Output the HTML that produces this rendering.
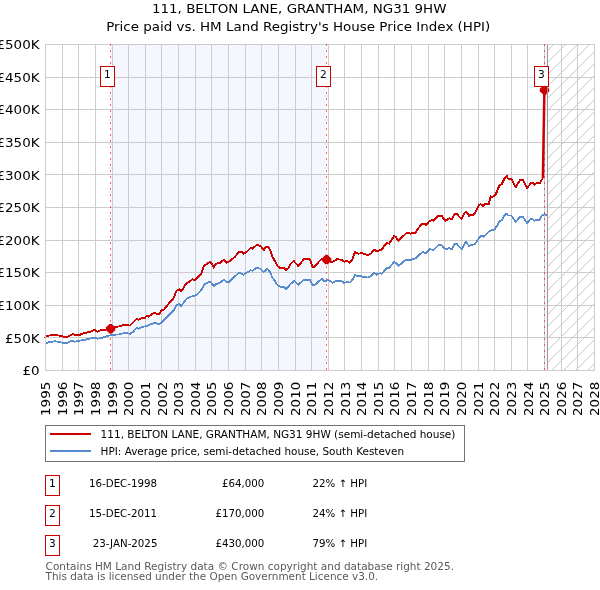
<!DOCTYPE html>
<html lang="en"><head><meta charset="utf-8"><title>111, BELTON LANE, GRANTHAM, NG31 9HW</title>
<style>
html,body{margin:0;padding:0;background:#fff;}
body{width:600px;height:590px;overflow:hidden;position:relative;}
svg{position:absolute;left:0;top:0;display:block;}
text{font-family:"DejaVu Sans","Liberation Sans",sans-serif;fill:#000;}
.t{font-size:13.5px;}
.tt{font-size:13.45px;}
.s{font-size:10.5px;}
.f{font-size:10.5px;fill:#5a5a5a;}
.r{font-size:10.25px;}
</style></head><body>
<svg width="600" height="590" viewBox="0 0 600 590">
<defs>
<pattern id="h" width="12" height="12" patternUnits="userSpaceOnUse" x="10" y="0"><path d="M-1,1 L1,-1 M-1,13 L13,-1 M11,13 L13,11" stroke="#c6c6c6" stroke-width="1" fill="none"/></pattern>
<clipPath id="c"><rect x="45.5" y="44.5" width="549" height="326"/></clipPath>
</defs>
<rect width="600" height="590" fill="#fff"/>
<rect x="110.6" y="44.5" width="215.4" height="326" fill="#f4f7fe"/>
<rect x="544.4" y="44.5" width="3.1" height="326" fill="#f4f7fe"/>
<rect x="547.5" y="44.5" width="47" height="326" fill="url(#h)"/>
<path d="M45,44h1v327h-1zM62,44h1v327h-1zM78,44h1v327h-1zM95,44h1v327h-1zM112,44h1v327h-1zM128,44h1v327h-1zM145,44h1v327h-1zM161,44h1v327h-1zM178,44h1v327h-1zM195,44h1v327h-1zM211,44h1v327h-1zM228,44h1v327h-1zM245,44h1v327h-1zM261,44h1v327h-1zM278,44h1v327h-1zM295,44h1v327h-1zM311,44h1v327h-1zM328,44h1v327h-1zM344,44h1v327h-1zM361,44h1v327h-1zM378,44h1v327h-1zM394,44h1v327h-1zM411,44h1v327h-1zM428,44h1v327h-1zM444,44h1v327h-1zM461,44h1v327h-1zM478,44h1v327h-1zM494,44h1v327h-1zM511,44h1v327h-1zM527,44h1v327h-1zM544,44h1v327h-1zM561,44h1v327h-1zM577,44h1v327h-1zM594,44h1v327h-1zM45,370h550v1h-550zM45,337h550v1h-550zM45,305h550v1h-550zM45,272h550v1h-550zM45,240h550v1h-550zM45,207h550v1h-550zM45,174h550v1h-550zM45,142h550v1h-550zM45,109h550v1h-550zM45,77h550v1h-550zM45,44h550v1h-550z" fill="#cccccc" shape-rendering="crispEdges"/>
<g clip-path="url(#c)" fill="none" stroke-linejoin="round" shape-rendering="crispEdges">
<polyline points="45.8,343.0 50.0,342.0 55.0,341.3 60.0,342.0 63.3,343.0 67.5,342.7 71.7,340.8 74.2,341.7 80.0,340.5 85.0,339.8 90.0,338.5 95.0,337.8 97.5,338.7 103.3,337.5 110.0,335.3 115.0,334.7 120.0,334.3 125.0,332.7 130.0,333.9 133.3,331.7 136.7,327.5 138.3,328.7 143.3,326.7 146.7,326.2 150.8,324.2 155.0,322.8 158.3,324.2 160.8,323.3 162.5,321.3 167.5,316.7 173.3,310.8 176.7,305.3 179.2,303.7 180.8,306.2 183.3,303.3 186.7,298.7 190.8,296.7 194.2,295.8 197.5,294.3 201.7,289.4 204.2,284.6 207.5,282.9 210.0,281.7 211.7,283.3 213.8,286.6 215.8,284.3 220.0,282.7 223.7,280.0 226.7,281.7 229.2,281.7 233.3,277.8 239.2,272.5 243.3,274.8 246.7,272.5 250.8,270.3 252.5,270.8 257.0,267.5 260.0,268.7 263.7,272.0 267.5,268.7 270.0,272.0 272.5,277.8 275.0,281.2 277.5,285.3 280.8,286.7 284.2,287.0 286.2,289.0 288.7,286.2 290.8,283.8 294.2,281.0 298.3,284.7 304.2,279.7 310.0,280.0 312.8,285.5 315.0,284.7 321.7,278.8 325.0,281.7 328.3,280.0 332.5,282.7 336.7,280.5 341.7,281.3 344.2,283.0 347.5,281.7 350.0,282.7 352.5,279.7 355.0,275.0 357.5,276.3 360.0,275.8 364.2,277.2 368.3,277.5 370.8,276.0 374.2,273.0 376.7,274.7 380.0,273.3 381.7,273.8 384.2,271.0 386.7,268.0 389.2,267.7 394.2,261.7 395.8,263.0 398.7,265.8 401.7,263.3 405.8,259.7 411.7,259.7 415.8,258.3 418.3,255.8 422.5,252.0 425.8,253.3 430.0,249.2 433.3,250.0 438.3,245.0 441.7,245.0 443.3,247.5 445.8,249.2 449.2,248.0 451.7,249.2 454.7,244.2 457.0,244.2 459.2,246.7 461.7,249.2 464.2,244.2 466.3,241.7 468.8,245.8 471.7,245.0 475.0,244.2 477.5,240.3 480.8,235.8 483.3,236.7 485.0,235.3 490.0,230.8 495.0,229.2 499.2,221.7 501.7,220.3 505.0,214.7 506.7,213.7 508.0,215.5 511.3,215.5 514.2,219.7 515.8,221.7 520.0,217.0 523.0,217.0 525.0,220.0 527.2,223.0 530.8,218.7 532.5,218.7 534.2,220.8 537.5,219.7 539.7,219.7 541.7,215.8 544.2,214.2 546.7,215.5" stroke="#588bce" stroke-width="1.8"/>
<polyline points="45.8,335.8 52.5,335.3 55.0,334.5 56.7,335.3 60.8,335.7 63.3,336.8 67.5,336.8 72.5,334.2 75.0,334.8 80.0,334.7 85.0,332.8 90.0,332.0 94.2,329.7 97.5,331.7 100.8,330.0 105.8,329.7 110.4,328.3 115.0,327.0 120.0,326.3 125.0,324.7 130.0,325.6 136.7,318.7 138.3,319.7 142.5,317.8 145.0,317.8 146.7,315.8 148.3,316.7 151.7,314.2 155.0,312.8 157.5,314.2 160.0,313.7 161.3,310.0 163.3,310.5 167.5,305.0 173.3,298.3 176.7,290.8 179.2,289.2 180.8,291.2 183.3,288.3 185.8,284.2 189.2,281.7 192.5,279.2 195.0,280.0 198.3,276.7 201.7,273.0 204.2,265.3 206.7,264.2 210.0,261.7 211.7,263.7 213.8,267.8 215.8,263.7 220.0,262.8 223.7,260.0 226.7,262.8 230.8,260.3 235.0,256.7 239.2,251.7 241.7,252.0 243.3,253.7 246.7,251.7 250.8,247.8 252.5,248.7 257.0,244.5 260.8,246.2 263.7,250.3 265.8,247.3 268.0,246.7 270.0,249.5 272.5,257.0 275.0,261.2 277.5,266.2 280.8,268.3 284.2,267.8 286.2,270.0 288.7,267.8 290.8,263.7 293.7,261.0 298.3,266.0 304.2,258.8 310.0,259.3 312.5,266.7 314.2,266.7 321.7,258.8 326.4,259.3 330.8,261.8 334.2,261.3 336.7,259.3 341.7,259.7 344.2,261.8 347.5,261.0 350.0,262.7 352.5,258.8 355.0,252.2 358.3,253.8 361.7,253.0 365.0,254.3 368.3,255.0 370.8,253.8 374.2,249.7 376.7,251.3 381.7,249.7 384.2,246.0 386.7,243.0 389.2,243.7 394.2,235.8 395.8,237.0 398.7,240.8 401.7,237.5 405.8,233.7 408.3,232.5 410.0,233.7 415.8,232.5 418.3,228.3 421.7,224.2 424.2,223.7 426.3,225.0 429.2,221.3 431.7,220.0 433.3,220.8 438.3,215.8 441.7,215.8 443.3,218.7 445.8,220.8 449.2,218.3 451.7,219.2 454.7,213.7 457.0,213.7 459.2,216.7 461.7,218.7 464.2,213.3 466.3,211.7 468.8,215.8 470.8,215.0 472.8,215.6 475.8,211.7 479.2,205.0 480.8,204.2 483.0,205.8 485.0,204.2 488.7,204.2 490.8,196.3 492.5,197.0 495.8,194.2 499.2,185.8 501.7,184.2 505.0,177.5 506.7,175.8 508.0,178.7 511.3,179.2 514.2,184.2 515.8,187.0 520.0,180.3 523.0,180.3 525.0,184.2 527.2,188.0 530.8,183.0 532.5,182.5 534.2,184.7 537.5,182.5 539.7,183.3 541.7,180.0 542.9,178.3" stroke="#cc0000" stroke-width="1.9"/>
</g>
<polyline points="542.9,178.3 543.0,172 544.4,90" stroke="#cc0000" stroke-width="2.5" fill="none" stroke-linejoin="round"/>
<rect x="44" y="337" width="1" height="1" fill="#cc0000"/>
<path d="M109.4,324.0H111.8L115.3,327.5V329.9L111.8,333.4H109.4L105.9,329.9V327.5Z" fill="#cc0000"/>
<path d="M325.4,254.9H327.8L331.3,258.4V260.8L327.8,264.3H325.4L321.9,260.8V258.4Z" fill="#cc0000"/>
<path d="M543.3,85.3H545.7L549.2,88.8V91.2L545.7,94.7H543.3L539.8,91.2V88.8Z" fill="#cc0000"/>
<path d="M110.5,370V44" stroke="#ff0000" stroke-opacity="0.6" stroke-width="1" stroke-dasharray="2 4" fill="none"/>
<path d="M326.5,370V44" stroke="#ff0000" stroke-opacity="0.6" stroke-width="1" stroke-dasharray="2 4" fill="none"/>
<path d="M544.5,370V44" stroke="#ff0000" stroke-opacity="0.6" stroke-width="1" stroke-dasharray="2 4" fill="none"/>
<rect x="547" y="45" width="1" height="325" fill="#999999"/>
<rect x="100.5" y="66.5" width="14" height="20" fill="#fff" stroke="#cc0000" stroke-width="1"/>
<text class="s" x="107.5" y="77.9" text-anchor="middle" style="font-size:10.67px">1</text>
<rect x="316.5" y="66.5" width="14" height="20" fill="#fff" stroke="#cc0000" stroke-width="1"/>
<text class="s" x="323.5" y="77.9" text-anchor="middle" style="font-size:10.67px">2</text>
<rect x="534.5" y="66.5" width="14" height="20" fill="#fff" stroke="#cc0000" stroke-width="1"/>
<text class="s" x="541.5" y="77.9" text-anchor="middle" style="font-size:10.67px">3</text>
<text class="t" transform="translate(39.6,375.1) scale(1,0.93)" text-anchor="end">£0</text>
<text class="t" transform="translate(39.6,342.5) scale(1,0.93)" text-anchor="end">£50K</text>
<text class="t" transform="translate(39.6,309.9) scale(1,0.93)" text-anchor="end">£100K</text>
<text class="t" transform="translate(39.6,277.3) scale(1,0.93)" text-anchor="end">£150K</text>
<text class="t" transform="translate(39.6,244.7) scale(1,0.93)" text-anchor="end">£200K</text>
<text class="t" transform="translate(39.6,212.1) scale(1,0.93)" text-anchor="end">£250K</text>
<text class="t" transform="translate(39.6,179.5) scale(1,0.93)" text-anchor="end">£300K</text>
<text class="t" transform="translate(39.6,146.9) scale(1,0.93)" text-anchor="end">£350K</text>
<text class="t" transform="translate(39.6,114.3) scale(1,0.93)" text-anchor="end">£400K</text>
<text class="t" transform="translate(39.6,81.7) scale(1,0.93)" text-anchor="end">£450K</text>
<text class="t" transform="translate(39.6,49.1) scale(1,0.93)" text-anchor="end">£500K</text>
<text class="t" transform="translate(50.0,416) rotate(-90) scale(1,0.93)">1995</text>
<text class="t" transform="translate(66.6,416) rotate(-90) scale(1,0.93)">1996</text>
<text class="t" transform="translate(83.3,416) rotate(-90) scale(1,0.93)">1997</text>
<text class="t" transform="translate(99.9,416) rotate(-90) scale(1,0.93)">1998</text>
<text class="t" transform="translate(116.5,416) rotate(-90) scale(1,0.93)">1999</text>
<text class="t" transform="translate(133.2,416) rotate(-90) scale(1,0.93)">2000</text>
<text class="t" transform="translate(149.8,416) rotate(-90) scale(1,0.93)">2001</text>
<text class="t" transform="translate(166.5,416) rotate(-90) scale(1,0.93)">2002</text>
<text class="t" transform="translate(183.1,416) rotate(-90) scale(1,0.93)">2003</text>
<text class="t" transform="translate(199.7,416) rotate(-90) scale(1,0.93)">2004</text>
<text class="t" transform="translate(216.4,416) rotate(-90) scale(1,0.93)">2005</text>
<text class="t" transform="translate(233.0,416) rotate(-90) scale(1,0.93)">2006</text>
<text class="t" transform="translate(249.6,416) rotate(-90) scale(1,0.93)">2007</text>
<text class="t" transform="translate(266.3,416) rotate(-90) scale(1,0.93)">2008</text>
<text class="t" transform="translate(282.9,416) rotate(-90) scale(1,0.93)">2009</text>
<text class="t" transform="translate(299.5,416) rotate(-90) scale(1,0.93)">2010</text>
<text class="t" transform="translate(316.2,416) rotate(-90) scale(1,0.93)">2011</text>
<text class="t" transform="translate(332.8,416) rotate(-90) scale(1,0.93)">2012</text>
<text class="t" transform="translate(349.5,416) rotate(-90) scale(1,0.93)">2013</text>
<text class="t" transform="translate(366.1,416) rotate(-90) scale(1,0.93)">2014</text>
<text class="t" transform="translate(382.7,416) rotate(-90) scale(1,0.93)">2015</text>
<text class="t" transform="translate(399.4,416) rotate(-90) scale(1,0.93)">2016</text>
<text class="t" transform="translate(416.0,416) rotate(-90) scale(1,0.93)">2017</text>
<text class="t" transform="translate(432.6,416) rotate(-90) scale(1,0.93)">2018</text>
<text class="t" transform="translate(449.3,416) rotate(-90) scale(1,0.93)">2019</text>
<text class="t" transform="translate(465.9,416) rotate(-90) scale(1,0.93)">2020</text>
<text class="t" transform="translate(482.5,416) rotate(-90) scale(1,0.93)">2021</text>
<text class="t" transform="translate(499.2,416) rotate(-90) scale(1,0.93)">2022</text>
<text class="t" transform="translate(515.8,416) rotate(-90) scale(1,0.93)">2023</text>
<text class="t" transform="translate(532.5,416) rotate(-90) scale(1,0.93)">2024</text>
<text class="t" transform="translate(549.1,416) rotate(-90) scale(1,0.93)">2025</text>
<text class="t" transform="translate(565.7,416) rotate(-90) scale(1,0.93)">2026</text>
<text class="t" transform="translate(582.4,416) rotate(-90) scale(1,0.93)">2027</text>
<text class="t" transform="translate(599.0,416) rotate(-90) scale(1,0.93)">2028</text>
<text class="tt" transform="translate(299.2,13) scale(1,0.97)" text-anchor="middle">111, BELTON LANE, GRANTHAM, NG31 9HW</text>
<text class="tt" transform="translate(298.2,30.6) scale(1,0.97)" text-anchor="middle">Price paid vs. HM Land Registry's House Price Index (HPI)</text>
<rect x="45.5" y="425.5" width="419" height="36" fill="#fff" stroke="#737373" stroke-width="1"/>
<path d="M50,434H91" stroke="#cc0000" stroke-width="2"/>
<path d="M50,451H91" stroke="#588bce" stroke-width="2"/>
<text class="s" x="100.6" y="437.5">111, BELTON LANE, GRANTHAM, NG31 9HW (semi-detached house)</text>
<text class="s" x="100.6" y="454.5" style="font-size:10.45px">HPI: Average price, semi-detached house, South Kesteven</text>
<rect x="45.5" y="475.5" width="14" height="20" fill="#fff" stroke="#cc0000" stroke-width="1"/>
<text class="s" x="52.5" y="486.9" text-anchor="middle" style="font-size:10.67px">1</text>
<text class="r" x="89.0" y="486.6">16-DEC-1998</text>
<text class="r" x="264.4" y="486.6" text-anchor="end">£64,000</text>
<text class="r" x="312.4" y="486.6">22% ↑ HPI</text>
<rect x="45.5" y="505.5" width="14" height="20" fill="#fff" stroke="#cc0000" stroke-width="1"/>
<text class="s" x="52.5" y="516.9" text-anchor="middle" style="font-size:10.67px">2</text>
<text class="r" x="89.0" y="516.6">15-DEC-2011</text>
<text class="r" x="264.4" y="516.6" text-anchor="end">£170,000</text>
<text class="r" x="312.4" y="516.6">24% ↑ HPI</text>
<rect x="45.5" y="535.5" width="14" height="20" fill="#fff" stroke="#cc0000" stroke-width="1"/>
<text class="s" x="52.5" y="546.9" text-anchor="middle" style="font-size:10.67px">3</text>
<text class="r" x="92.8" y="546.6">23-JAN-2025</text>
<text class="r" x="264.4" y="546.6" text-anchor="end">£430,000</text>
<text class="r" x="312.4" y="546.6">79% ↑ HPI</text>
<text class="f" x="45.6" y="569.8">Contains HM Land Registry data © Crown copyright and database right 2025.</text>
<text class="f" x="45.6" y="579.8" style="font-size:10.45px">This data is licensed under the Open Government Licence v3.0.</text>
</svg></body></html>
